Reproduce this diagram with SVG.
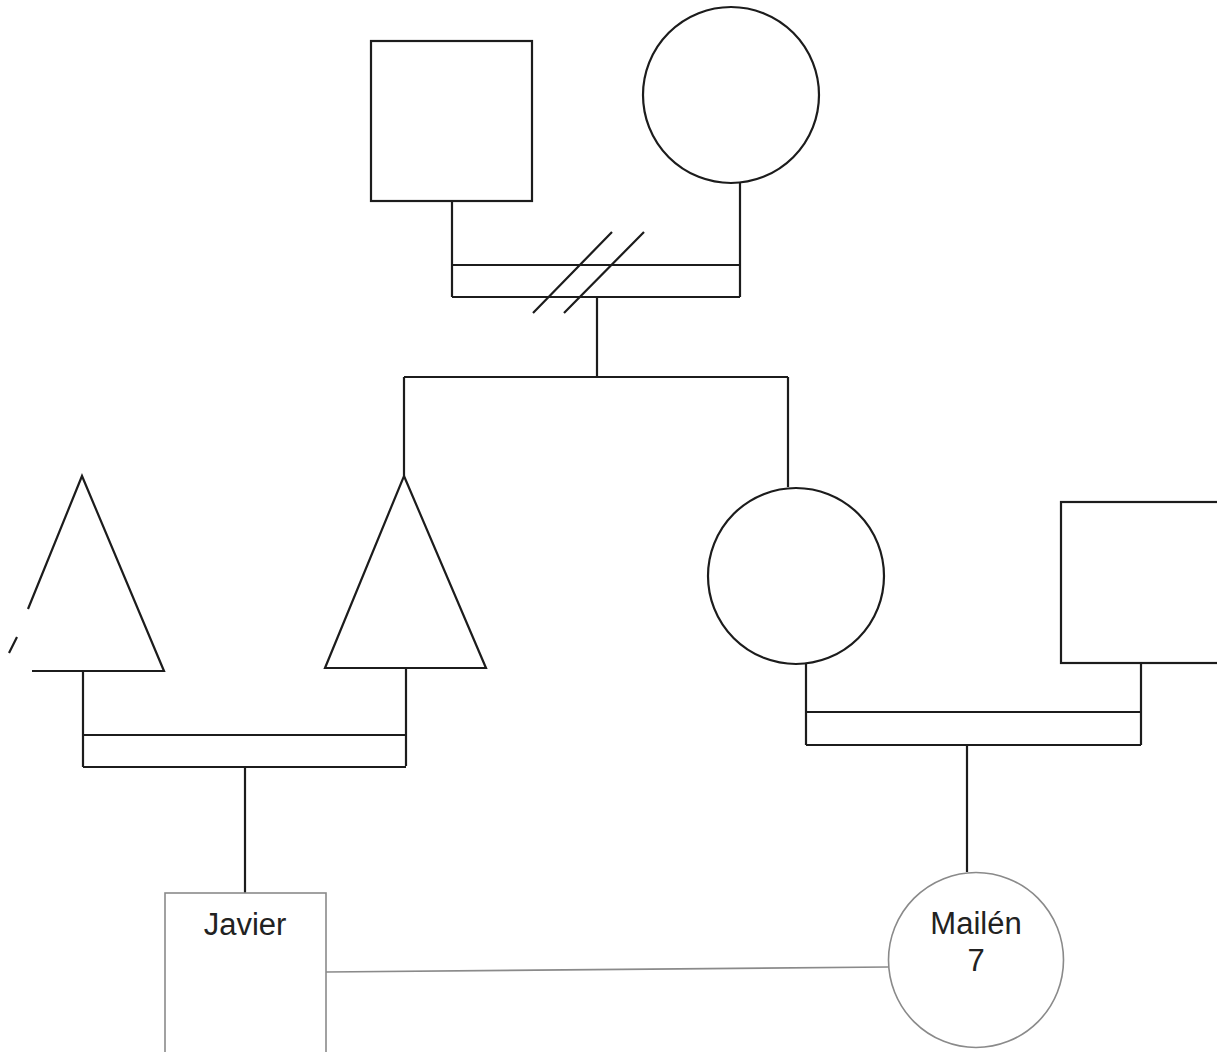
<svg xmlns="http://www.w3.org/2000/svg" width="1217" height="1052" viewBox="0 0 1217 1052">
<style>
.dk{fill:none;stroke:#1c1c1c;stroke-width:2.2}
.lt{fill:none;stroke:#8a8a8a;stroke-width:1.6}
.lbl{font-family:"Liberation Sans",Arial,sans-serif;font-size:31px;fill:#222;text-anchor:middle}
</style>
<rect width="1217" height="1052" fill="#fff"/>
<g id="connectors">
<path class="dk" d="M452,201V297M740,183V297M452,265H740M452,297H740"/>
<path class="dk" d="M533,313L612,232M564,313L644,232"/>
<path class="dk" d="M597,297V377M404,377H788M404,377V476M788,377V487"/>
<path class="dk" d="M83,671V767M406,668V766M83,735H406M83,767H406"/>
<path class="dk" d="M245,767V893"/>
<path class="dk" d="M806,664V745M1141,663V745M806,712H1141M806,745H1141"/>
<path class="dk" d="M967,745V872"/>
<path class="lt" d="M326,972L888,967"/>
</g>
<g id="father"><rect class="dk" x="371" y="41" width="161" height="160"/></g>
<g id="mother"><circle class="dk" cx="731" cy="95" r="88"/></g>
<g id="sibling-left"><path class="dk" d="M28,609L82,476L164,671H32M17,637L9,653"/></g>
<g id="sibling-right"><polygon class="dk" points="404,476 486,668 325,668"/></g>
<g id="daughter"><circle class="dk" cx="796" cy="576" r="88"/></g>
<g id="partner"><rect class="dk" x="1061" y="502" width="180" height="161"/></g>
<g id="javier"><rect class="lt" x="165" y="893" width="161" height="200"/><text class="lbl" x="245" y="935">Javier</text></g>
<g id="mailen"><circle class="lt" cx="976" cy="960" r="87.5"/><text class="lbl" x="976" y="934">Mailén</text><text class="lbl" x="976" y="971">7</text></g>
</svg>
